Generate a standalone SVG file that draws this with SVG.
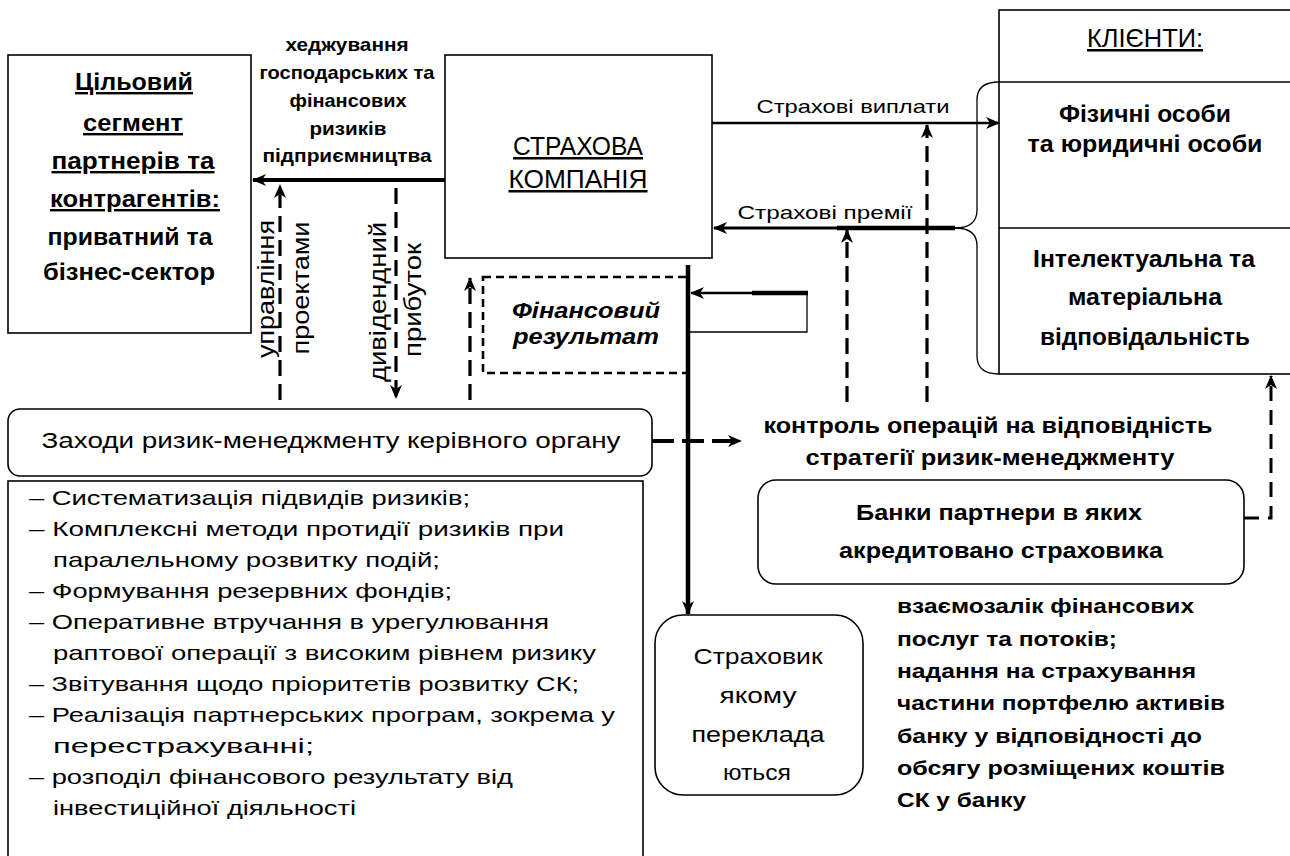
<svg xmlns="http://www.w3.org/2000/svg" width="1290" height="856" viewBox="0 0 1290 856">
<defs>
<style>
text { font-family: "Liberation Sans", Arial, sans-serif; fill: #000; }
.b { font-weight: bold; }
.u { text-decoration: underline; }
.bi { font-weight: bold; font-style: italic; }
.box { fill: #fff; stroke: #000; stroke-width: 1.6; }
.thin { fill: none; stroke: #000; stroke-width: 1.3; }
.solid { fill: none; stroke: #000; }
.dash { fill: none; stroke: #000; stroke-width: 3.2; stroke-dasharray: 16 8; }
.mid { text-anchor: middle; }
</style>
<marker id="ah" viewBox="0 0 14 12" markerWidth="14" markerHeight="12" refX="13" refY="6" orient="auto" markerUnits="userSpaceOnUse">
<path d="M0,0 L14,6 L0,12 L4,6 Z" fill="#000"/>
</marker>
</defs>
<rect width="1290" height="856" fill="#fff"/>

<g id="target-segment">
<rect class="box" x="8" y="55" width="243" height="278"/>
<text class="b u mid" x="134" y="90" font-size="24" textLength="118" lengthAdjust="spacingAndGlyphs">Цільовий</text>
<text class="b u mid" x="133" y="131" font-size="24" textLength="100" lengthAdjust="spacingAndGlyphs">сегмент</text>
<text class="b u mid" x="133" y="169" font-size="24" textLength="163" lengthAdjust="spacingAndGlyphs">партнерів та</text>
<text class="b u mid" x="135" y="207" font-size="24" textLength="170" lengthAdjust="spacingAndGlyphs">контрагентів:</text>
<text class="b mid" x="130" y="245" font-size="24" textLength="165" lengthAdjust="spacingAndGlyphs">приватний та</text>
<text class="b mid" x="129" y="280" font-size="24" textLength="172" lengthAdjust="spacingAndGlyphs">бізнес-сектор</text>
</g>

<g id="hedging-label">
<text class="b mid" x="347" y="51" font-size="19" textLength="123" lengthAdjust="spacingAndGlyphs">хеджування</text>
<text class="b mid" x="347" y="79" font-size="19" textLength="175" lengthAdjust="spacingAndGlyphs">господарських та</text>
<text class="b mid" x="348" y="107" font-size="19" textLength="117" lengthAdjust="spacingAndGlyphs">фінансових</text>
<text class="b mid" x="348" y="135" font-size="19" textLength="77" lengthAdjust="spacingAndGlyphs">ризиків</text>
<text class="b mid" x="347" y="162" font-size="19" textLength="169" lengthAdjust="spacingAndGlyphs">підприємництва</text>
</g>

<g id="insurance-company">
<rect class="box" x="445" y="55" width="267" height="203"/>
<text class="u mid" x="578" y="155" font-size="25" textLength="130" lengthAdjust="spacingAndGlyphs">СТРАХОВА</text>
<text class="u mid" x="578" y="188" font-size="25" textLength="139" lengthAdjust="spacingAndGlyphs">КОМПАНІЯ</text>
</g>

<g id="clients">
<rect class="box" x="999" y="10" width="300" height="364"/>
<line class="thin" x1="999" y1="82" x2="1290" y2="82"/>
<line class="thin" x1="999" y1="228" x2="1290" y2="228"/>
<text class="u mid" x="1145" y="47" font-size="25" textLength="116" lengthAdjust="spacingAndGlyphs">КЛІЄНТИ:</text>
<text class="b mid" x="1145" y="122" font-size="23" textLength="172" lengthAdjust="spacingAndGlyphs">Фізичні особи</text>
<text class="b mid" x="1145" y="152" font-size="23" textLength="235" lengthAdjust="spacingAndGlyphs">та юридичні особи</text>
<text class="b mid" x="1144" y="267" font-size="23" textLength="222" lengthAdjust="spacingAndGlyphs">Інтелектуальна та</text>
<text class="b mid" x="1145" y="305" font-size="23" textLength="154" lengthAdjust="spacingAndGlyphs">матеріальна</text>
<text class="b mid" x="1145" y="345" font-size="23" textLength="210" lengthAdjust="spacingAndGlyphs">відповідальність</text>
</g>

<g id="brace">
<path class="thin" d="M999,82 C985,82 977,88 977,100 L977,210 C977,222 970,228 955,228"/>
<path class="thin" d="M955,228 C970,228 977,234 977,246 L977,356 C977,368 985,374 999,374"/>
</g>

<g id="financial-result">
<rect x="483" y="277" width="205" height="96" fill="#fff" stroke="#000" stroke-width="2.6" stroke-dasharray="8 5"/>
<text class="bi mid" x="586" y="318" font-size="22" textLength="148" lengthAdjust="spacingAndGlyphs">Фінансовий</text>
<text class="bi mid" x="586" y="344" font-size="22" textLength="146" lengthAdjust="spacingAndGlyphs">результат</text>
</g>

<g id="risk-measures">
<rect class="box" x="8" y="409" width="644" height="67" rx="12"/>
<text class="mid" x="331" y="448" font-size="22" textLength="579" lengthAdjust="spacingAndGlyphs">Заходи ризик-менеджменту керівного органу</text>
</g>

<g id="measures-list">
<rect class="box" x="8" y="481" width="635" height="390"/>
<text x="29" y="505" font-size="21" textLength="441" lengthAdjust="spacingAndGlyphs">– Систематизація підвидів ризиків;</text>
<text x="29" y="536" font-size="21" textLength="535" lengthAdjust="spacingAndGlyphs">– Комплексні методи протидії ризиків при</text>
<text x="53" y="567" font-size="21" textLength="387" lengthAdjust="spacingAndGlyphs">паралельному розвитку подій;</text>
<text x="29" y="598" font-size="21" textLength="423" lengthAdjust="spacingAndGlyphs">– Формування резервних фондів;</text>
<text x="29" y="629" font-size="21" textLength="520" lengthAdjust="spacingAndGlyphs">– Оперативне втручання в урегулювання</text>
<text x="53" y="660" font-size="21" textLength="543" lengthAdjust="spacingAndGlyphs">раптової операції з високим рівнем ризику</text>
<text x="29" y="691" font-size="21" textLength="550" lengthAdjust="spacingAndGlyphs">– Звітування щодо пріоритетів розвитку СК;</text>
<text x="29" y="722" font-size="21" textLength="586" lengthAdjust="spacingAndGlyphs">– Реалізація партнерських програм, зокрема у</text>
<text x="53" y="753" font-size="21" textLength="261" lengthAdjust="spacingAndGlyphs">перестрахуванні;</text>
<text x="29" y="784" font-size="21" textLength="484" lengthAdjust="spacingAndGlyphs">– розподіл фінансового результату від</text>
<text x="53" y="815" font-size="21" textLength="303" lengthAdjust="spacingAndGlyphs">інвестиційної діяльності</text>
</g>

<g id="control-label">
<text class="b mid" x="988" y="433" font-size="22" textLength="449" lengthAdjust="spacingAndGlyphs">контроль операцій на відповідність</text>
<text class="b mid" x="990" y="465" font-size="22" textLength="369" lengthAdjust="spacingAndGlyphs">стратегії ризик-менеджменту</text>
</g>

<g id="partner-banks">
<rect class="box" x="758" y="480" width="486" height="104" rx="18"/>
<text class="b mid" x="999" y="520" font-size="22" textLength="286" lengthAdjust="spacingAndGlyphs">Банки партнери в яких</text>
<text class="b mid" x="1001" y="558" font-size="22" textLength="324" lengthAdjust="spacingAndGlyphs">акредитовано страховика</text>
</g>

<g id="reinsurer">
<rect class="box" x="655" y="615" width="208" height="180" rx="28"/>
<text class="mid" x="758" y="664" font-size="22" textLength="129" lengthAdjust="spacingAndGlyphs">Страховик</text>
<text class="mid" x="758" y="703" font-size="22" textLength="77" lengthAdjust="spacingAndGlyphs">якому</text>
<text class="mid" x="758" y="742" font-size="22" textLength="133" lengthAdjust="spacingAndGlyphs">переклада</text>
<text class="mid" x="757" y="780" font-size="22" textLength="68" lengthAdjust="spacingAndGlyphs">ються</text>
</g>

<g id="bank-services">
<text class="b" x="897" y="613" font-size="21" textLength="297" lengthAdjust="spacingAndGlyphs">взаємозалік фінансових</text>
<text class="b" x="897" y="646" font-size="21" textLength="220" lengthAdjust="spacingAndGlyphs">послуг та потоків;</text>
<text class="b" x="897" y="678" font-size="21" textLength="299" lengthAdjust="spacingAndGlyphs">надання на страхування</text>
<text class="b" x="897" y="710" font-size="21" textLength="328" lengthAdjust="spacingAndGlyphs">частини портфелю активів</text>
<text class="b" x="897" y="743" font-size="21" textLength="305" lengthAdjust="spacingAndGlyphs">банку у відповідності до</text>
<text class="b" x="897" y="775" font-size="21" textLength="328" lengthAdjust="spacingAndGlyphs">обсягу розміщених коштів</text>
<text class="b" x="897" y="807" font-size="21" textLength="129" lengthAdjust="spacingAndGlyphs">СК у банку</text>
</g>

<g id="connectors">
<line class="solid" stroke-width="4" x1="445" y1="180" x2="253" y2="180" marker-end="url(#ah)"/>
<line class="dash" x1="280" y1="400" x2="280" y2="185" marker-end="url(#ah)"/>
<line class="dash" x1="396" y1="188" x2="396" y2="398" marker-end="url(#ah)"/>
<line class="dash" x1="470" y1="400" x2="470" y2="278" marker-end="url(#ah)"/>
<line class="solid" stroke-width="2.6" x1="712" y1="123" x2="999" y2="123" marker-end="url(#ah)"/>
<line class="solid" stroke-width="2.8" x1="955" y1="228" x2="714" y2="228" marker-end="url(#ah)"/>
<line class="solid" stroke-width="4.5" x1="837" y1="228" x2="955" y2="228"/>
<line class="dash" stroke-width="3.6" x1="847" y1="402" x2="847" y2="230" marker-end="url(#ah)"/>
<line class="dash" stroke-width="3.6" x1="927" y1="402" x2="927" y2="125" marker-end="url(#ah)"/>
<line class="solid" stroke-width="2.6" x1="808" y1="293" x2="691" y2="293" marker-end="url(#ah)"/>
<line class="solid" stroke-width="4.5" x1="752" y1="293" x2="808" y2="293"/>
<polyline class="thin" stroke-width="1.6" points="807,293 807,332 690,332"/>
<line class="solid" stroke-width="4.5" x1="688" y1="265" x2="688" y2="614" marker-end="url(#ah)"/>
<line class="solid" stroke-width="4" stroke-dasharray="22 8" x1="652" y1="441" x2="741" y2="441" marker-end="url(#ah)"/>
<polyline class="solid" stroke-width="3" stroke-dasharray="15 9" points="1244,518 1271,518 1271,376" marker-end="url(#ah)"/>
</g>

<g id="connector-labels">
<text class="mid" x="853" y="113" font-size="19" textLength="193" lengthAdjust="spacingAndGlyphs">Страхові виплати</text>
<text class="mid" x="825" y="219" font-size="19" textLength="175" lengthAdjust="spacingAndGlyphs">Страхові премії</text>
<text class="mid" transform="translate(274,289) rotate(-90)" font-size="23" textLength="138" lengthAdjust="spacingAndGlyphs">управління</text>
<text class="mid" transform="translate(309,288) rotate(-90)" font-size="23" textLength="133" lengthAdjust="spacingAndGlyphs">проектами</text>
<text class="mid" transform="translate(386,302) rotate(-90)" font-size="23" textLength="160" lengthAdjust="spacingAndGlyphs">дивідендний</text>
<text class="mid" transform="translate(421,300) rotate(-90)" font-size="23" textLength="114" lengthAdjust="spacingAndGlyphs">прибуток</text>
</g>
</svg>
